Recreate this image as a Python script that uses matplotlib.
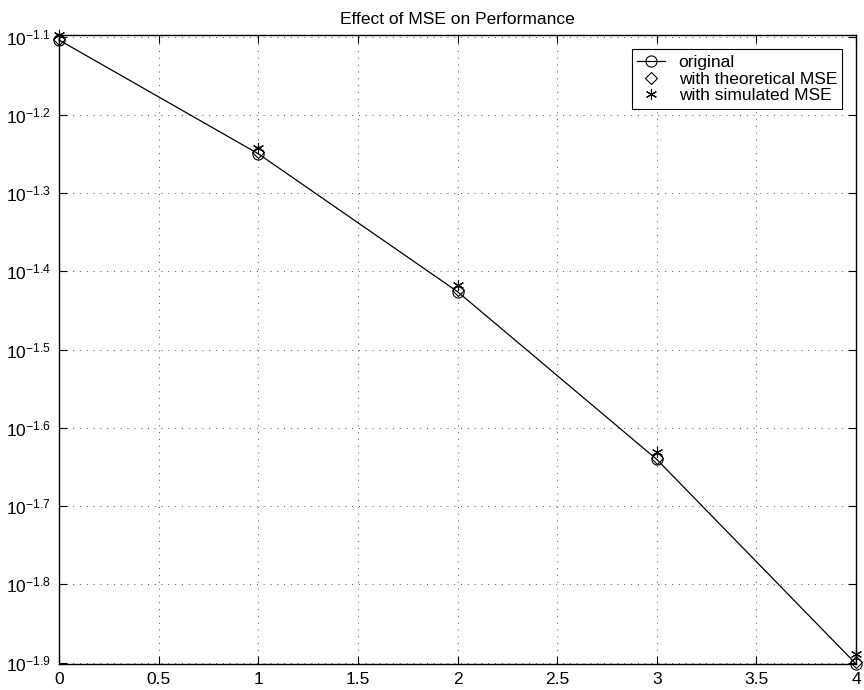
import numpy as np
import matplotlib
matplotlib.use('Agg')
import matplotlib.pyplot as plt

plt.rcParams['font.family'] = 'Liberation Sans'
plt.rcParams['mathtext.fontset'] = 'custom'
plt.rcParams['mathtext.rm'] = 'Liberation Sans'
plt.rcParams['mathtext.it'] = 'Liberation Sans'

# dados
snr = [0, 1, 2, 3, 4]
original = [0.07862, 0.05626, 0.03750, 0.02289, 0.01254]
teorico = [0.07886, 0.05650, 0.03767, 0.02299, 0.01262]
simulado = [0.07968, 0.05727, 0.03823, 0.02337, 0.01292]
yexp = [-1.1, -1.2, -1.3, -1.4, -1.5, -1.6, -1.7, -1.8, -1.9]
xticks = [0, 0.5, 1, 1.5, 2, 2.5, 3, 3.5, 4]

fig = plt.figure(figsize=(8.64, 6.9), dpi=100)
ax = fig.add_axes([0.0683, 0.0377, 0.9225, 0.9109])

ax.plot(snr, original, color='k', lw=0.9, marker='o', ms=8, mfc='none',
        mec='k', mew=0.8, label='original', clip_on=False, zorder=3)
ax.plot(snr, teorico, ls='none', marker='D', ms=6.5, mfc='none', mec='k',
        mew=0.8, label='with theoretical MSE', clip_on=False, zorder=3)
ax.plot(snr, simulado, ls='none', marker=(6, 2, 0), ms=8, color='k',
        mew=0.8, label='with simulated MSE', clip_on=False, zorder=3)

ax.set_yscale('log')
ax.set_xlim(0, 4)
todos = original + teorico + simulado
ax.set_ylim(min(todos), max(todos))
ax.set_xticks(xticks)
ax.set_xticklabels(['0', '0.5', '1', '1.5', '2', '2.5', '3', '3.5', '4'])
ax.set_yticks([10 ** e for e in yexp])
ax.set_yticklabels(['$10^{%.1f}$' % e for e in yexp])
ax.yaxis.set_minor_locator(matplotlib.ticker.NullLocator())
ax.tick_params(direction='in', top=True, right=True, length=6, width=0.8,
               labelsize=12.5, colors='k', pad=6)

ax.grid(True, color='#555555', linestyle=(0, (1, 6)), linewidth=0.7)
for s in ax.spines.values():
    s.set_linewidth(1.0)

ax.set_title('Effect of MSE on Performance', fontsize=12.5, pad=8)

leg = ax.legend(loc='upper right', fontsize=12.5, frameon=True, fancybox=False,
                edgecolor='k', framealpha=1, handlelength=1.6, handletextpad=0.8,
                borderpad=0.3, labelspacing=0.1, borderaxespad=0.8)
leg.get_frame().set_linewidth(0.8)

fig.savefig('out.png', dpi=100)
